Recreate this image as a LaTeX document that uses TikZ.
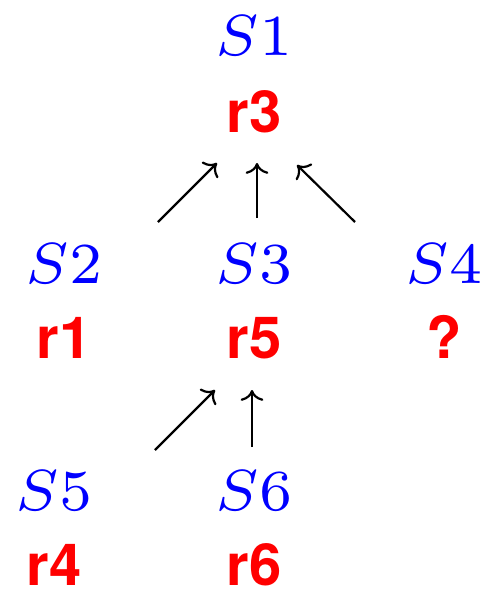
\documentclass[tikz,border=0pt]{standalone}
\usepackage{fontspec}
\setsansfont{TeX Gyre Heros}
\usetikzlibrary{positioning, arrows.meta}
\newcommand\sitelabel[1]{\scalebox{4.15}{\fontsize{7}{8}\selectfont$#1$}}
\tikzset{
  Site/.style = {text=blue, inner sep=0pt, text height=20pt, text depth=0pt},
  Val/.style  = {text=red, font=\fontsize{29}{34}\selectfont\sffamily\bfseries,
                 inner sep=0pt, text height=20pt, text depth=0pt},
  Up/.style   = {-{To[scale=1.35]}, line width=1.1pt},
}

\begin{document}
\begin{tikzpicture}
    \useasboundingbox (0,0) rectangle (246pt,-295pt);
    % top level
    \node[Site] (S1) at (127pt,-17.5pt) {\sitelabel{S1}};
    \node[Val, on grid, below=38.5pt of S1] (r3) {r3};
    % middle level
    \node[Site] (S3) at (127pt,-131.5pt) {\sitelabel{S3}};
    \node[Site, on grid, left=95pt of S3] (S2) {\sitelabel{S2}};
    \node[Site, on grid, right=95pt of S3] (S4) {\sitelabel{S4}};
    \node[Val, on grid, below=37.5pt of S2] (r1) {r1};
    \node[Val, on grid, below=37.5pt of S3] (r5) {r5};
    \node[Val, on grid, below=37.5pt of S4] (q4) {?};
    % bottom level
    \node[Site] (S5) at (27pt,-245pt) {\sitelabel{S5}};
    \node[Site, on grid, right=100pt of S5] (S6) {\sitelabel{S6}};
    \node[Val, on grid, below=37.5pt of S5] (r4) {r4};
    \node[Val, on grid, below=37.5pt of S6] (r6) {r6};
    % arrows
    \draw[Up] ([shift={(47pt,20.5pt)}]S2.center) -- ([shift={(-18.5pt,-25.5pt)}]r3.center);
    \draw[Up] ([shift={(1.5pt,22.5pt)}]S3.center) -- ([shift={(1.5pt,-25.5pt)}]r3.center);
    \draw[Up] ([shift={(-44.5pt,20.5pt)}]S4.center) -- ([shift={(21.5pt,-26.5pt)}]r3.center);
    \draw[Up] ([shift={(50.5pt,20pt)}]S5.center) -- ([shift={(-19.5pt,-26pt)}]r5.center);
    \draw[Up] ([shift={(-1pt,21.5pt)}]S6.center) -- ([shift={(-1pt,-26pt)}]r5.center);
\end{tikzpicture}
\end{document}
